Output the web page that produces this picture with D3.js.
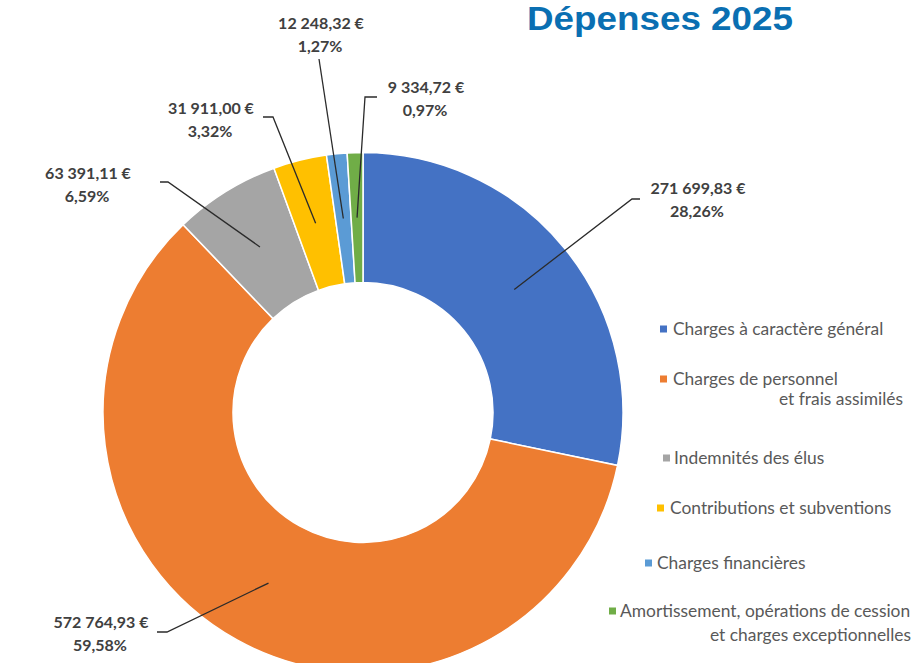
<!DOCTYPE html>
<html>
<head>
<meta charset="utf-8">
<script src="https://cdn.jsdelivr.net/npm/d3@7"></script>
<style>
  html, body { margin: 0; padding: 0; background: #ffffff; }
  svg { display: block; }
</style>
</head>
<body>
<svg id="chart" width="913" height="663"></svg>
<script>
// ---- data ----
const categories = [
  "Charges à caractère général",
  "Charges de personnel et frais assimilés",
  "Indemnités des élus",
  "Contributions et subventions",
  "Charges financières",
  "Amortissement, opérations de cession et charges exceptionnelles"
];
const values = [271699.83, 572764.93, 63391.11, 31911.00, 12248.32, 9334.72];
const colors = ["#4472C4", "#ED7D31", "#A5A5A5", "#FFC000", "#5B9BD5", "#70AD47"];
const legendLines = [
  ["Charges à caractère général"],
  ["Charges de personnel", "et frais assimilés"],
  ["Indemnités des élus"],
  ["Contributions et subventions"],
  ["Charges financières"],
  ["Amortissement, opérations de cession", "et charges exceptionnelles"]
];
const title = "Dépenses 2025";

// ---- layout (positions only) ----
const cx = 363, cy = 412.5, rOuter = 260, rInner = 130;
// label text centre x, first line centre y, leader elbow, leader end
const labelLayout = [
  { x: 698, y: 188, elbow: [632, 199], end: [640, 199] },
  { x: 101, y: 622, elbow: [167, 632], end: [157, 632] },
  { x: 88,  y: 173, elbow: [168, 182], end: [160, 182] },
  { x: 211, y: 108, elbow: [273, 117], end: [263, 117] },
  { x: 321, y: 23,  elbow: [319, 59],  end: [319, 59] },
  { x: 426, y: 87,  elbow: [365, 97],  end: [377, 97] }
];
// legend: marker x, text x, first line centre y, second line right edge & y
const legendLayout = [
  { mx: 660, tx: 673, y: 329 },
  { mx: 660, tx: 673, y: 379, x2: 903, y2: 399 },
  { mx: 663, tx: 674, y: 458 },
  { mx: 657, tx: 670, y: 508 },
  { mx: 645, tx: 657, y: 563 },
  { mx: 609, tx: 620, y: 611, x2: 911, y2: 635 }
];

const fr = d3.formatLocale({ decimal: ",", thousands: "\u00a0", grouping: [3], currency: ["", "\u00a0€"] });
const fmtMoney = fr.format("$,.2f");
const fmtPct = fr.format(".2f");
const total = d3.sum(values);

const svg = d3.select("#chart");

// title
svg.append("text")
  .attr("x", 527).attr("y", 30)
  .attr("textLength", 266).attr("lengthAdjust", "spacingAndGlyphs")
  .style("font-family", "'Liberation Sans', Arial, sans-serif")
  .style("font-weight", "bold")
  .style("font-size", "34px")
  .style("fill", "#0A6FB2")
  .text(title);

const pie = d3.pie().sort(null).value(d => d);
const arcs = pie(values);
const arc = d3.arc().innerRadius(rInner).outerRadius(rOuter);

const g = svg.append("g").attr("transform", `translate(${cx},${cy})`);
g.selectAll("path.slice")
  .data(arcs)
  .join("path")
  .attr("class", "slice")
  .attr("d", arc)
  .attr("fill", (d, i) => colors[i])
  .attr("stroke", "#ffffff")
  .attr("stroke-width", 1.5);

// leader lines
svg.selectAll("path.leader")
  .data(arcs)
  .join("path")
  .attr("class", "leader")
  .attr("d", (d, i) => {
    const c = arc.centroid(d);
    const L = labelLayout[i];
    return d3.line()([[cx + c[0], cy + c[1]], L.elbow, L.end]);
  })
  .attr("fill", "none")
  .attr("stroke", "#2b2b2b")
  .attr("stroke-width", 1.3);

// data labels
const lab = svg.selectAll("g.label")
  .data(arcs)
  .join("g")
  .attr("class", "label")
  .style("font-family", "Lato, 'Open Sans', sans-serif")
  .style("font-weight", "bold")
  .style("font-size", "16px")
  .style("fill", "#404040")
  .attr("text-anchor", "middle");
lab.append("text")
  .attr("x", (d, i) => labelLayout[i].x)
  .attr("y", (d, i) => labelLayout[i].y + 6)
  .text(d => fmtMoney(d.data));
lab.append("text")
  .attr("x", (d, i) => labelLayout[i].x - 1)
  .attr("y", (d, i) => labelLayout[i].y + 29)
  .text(d => fmtPct(d.data / total * 100) + "%");

// legend
const leg = svg.selectAll("g.legend")
  .data(categories)
  .join("g")
  .attr("class", "legend")
  .style("font-family", "Lato, 'Open Sans', sans-serif")
  .style("font-size", "17.4px")
  .style("fill", "#595959");
leg.append("rect")
  .attr("x", (d, i) => legendLayout[i].mx)
  .attr("y", (d, i) => legendLayout[i].y - 3.5)
  .attr("width", 7).attr("height", 7)
  .attr("fill", (d, i) => colors[i]);
leg.append("text")
  .attr("x", (d, i) => legendLayout[i].tx)
  .attr("y", (d, i) => legendLayout[i].y + 6)
  .text((d, i) => legendLines[i][0]);
leg.filter((d, i) => legendLines[i].length > 1)
  .append("text")
  .attr("text-anchor", "end")
  .attr("x", (d) => legendLayout[categories.indexOf(d)].x2)
  .attr("y", (d) => legendLayout[categories.indexOf(d)].y2 + 6)
  .text((d) => legendLines[categories.indexOf(d)][1]);
</script>
</body>
</html>
